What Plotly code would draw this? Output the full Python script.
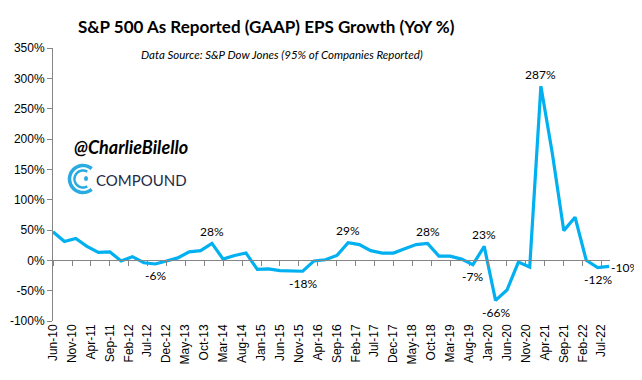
import math
import pandas as pd
import plotly.graph_objects as go

# ---- data ----
start_month = "2010-06-01"
n_points = 50
eps_growth = [47, 31, 36,
              23, 13, 14, -1,
              6, -4, -6, -1,
              4, 14, 16, 28,
              2, 8, 12, -15,
              -14, -17, -17, -18,
              -1, 1, 8, 29,
              26, 16, 12, 12,
              19, 26, 28, 7,
              7, 2, -7, 23,
              -66, -49, -3, -11,
              287, 176, 49, 71,
              0, -12, -10]
dates = pd.date_range(start_month, periods=n_points, freq="3MS")

# labelled points: index -> position
label_idx = [9, 14, 22, 26, 33, 37, 38, 39, 43, 48, 49]
label_pos = ["below", "above", "below", "above", "above", "below", "above",
             "below", "above", "below", "right"]

y_ticks = [-100, -50, 0, 50, 100, 150, 200, 250, 300, 350]
y_tick_text = [f"{v}%" for v in y_ticks]

OFF = 8  # page body margin
W, H = 642 - OFF, 380 - OFF
L, R, T, B = 53 - OFF, 32, 48 - OFF, 59
PW, PH = W - L - R, H - T - B

BLUE = "#00B0F0"
GRAY = "#868686"

fig = go.Figure()
fig.add_trace(go.Scatter(x=dates, y=eps_growth, mode="lines",
                         line=dict(color=BLUE, width=3.2), hoverinfo="skip",
                         showlegend=False))
# invisible trace for the zero-line axis with tick marks
fig.add_trace(go.Scatter(x=[dates[0]], y=[0], xaxis="x2", mode="markers",
                         marker=dict(opacity=0), showlegend=False, hoverinfo="skip"))

ymin, ymax = -100, 350
zero_pos = (0 - ymin) / (ymax - ymin)

fig.update_layout(
    width=W, height=H, margin=dict(l=L, r=R, t=T, b=B, autoexpand=False),
    paper_bgcolor="white", plot_bgcolor="white",
    xaxis=dict(type="date", range=["2010-06-01", "2022-09-08"],
               tick0="2010-06-01", dtick="M5", tickformat="%b-%y",
               tickangle=-90, showgrid=False, showline=False, zeroline=False,
               automargin=False, ticks="", ticklen=2,
               tickfont=dict(family="Liberation Sans", size=12, color="black")),
    xaxis2=dict(type="date", overlaying="x", matches="x", anchor="free",
                position=zero_pos, side="bottom", automargin=False,
                tick0="2010-06-01", dtick="M5", showticklabels=False,
                showgrid=False, showline=True, linecolor=GRAY, linewidth=1,
                ticks="outside", ticklen=5, tickcolor=GRAY, zeroline=False),
    yaxis=dict(range=[ymin, ymax], tickvals=y_ticks, ticktext=y_tick_text,
               showgrid=False, zeroline=False, showline=True, linecolor=GRAY,
               automargin=False, linewidth=1, ticks="outside", ticklen=5, tickcolor=GRAY,
               tickfont=dict(family="Liberation Sans", size=12, color="black")),
)

annotations = []
for i, pos in zip(label_idx, label_pos):
    v = eps_growth[i]
    txt = f"{v}%"
    a = dict(x=dates[i], y=v, xref="x", yref="y", text=txt, showarrow=False,
             font=dict(family="Lato", size=12, color="black"))
    if pos == "above":
        a.update(yshift=12)
    elif pos == "below":
        a.update(yshift=-12)
    else:
        a.update(xanchor="left", xshift=0, yshift=-1)
    annotations.append(a)


def px_to_paper(px, py):
    # screen pixel -> paper fraction
    return (px - OFF - L) / PW, (H - B - (py - OFF)) / PH


annotations += [
    dict(x=266, y=26, text="<b>S&P 500 As Reported (GAAP) EPS Growth (YoY %)</b>",
         showarrow=False, font=dict(family="Lato", size=17, color="black")),
    dict(x=282, y=54, text="<i>Data Source: S&P Dow Jones (95% of Companies Reported)</i>",
         showarrow=False, font=dict(family="Lato", size=11.5, color="black")),
    dict(x=131, y=147, text="<b><i>@CharlieBilello</i></b>",
         showarrow=False, font=dict(family="Lato", size=18, color="black")),
    dict(x=141, y=180, text="COMPOUND",
         showarrow=False, font=dict(family="Lato", size=15, color="#1F2A44")),
]
for a in annotations[len(label_idx):]:
    xp, yp = px_to_paper(a["x"], a["y"])
    a.update(x=xp, y=yp, xref="paper", yref="paper", xanchor="center", yanchor="middle")
fig.update_layout(annotations=annotations)


# Compound logo: concentric arcs (decoration)
def arc_path(cx, cy, r, a0, a1, n=40):
    pts = []
    for k in range(n + 1):
        a = math.radians(a0 + (a1 - a0) * k / n)
        px = cx + r * math.cos(a)
        py = cy - r * math.sin(a)
        xp, yp = px_to_paper(px, py)
        pts.append(f"{xp:.5f},{yp:.5f}")
    return "M" + " L".join(pts)


cx, cy = 83, 179
shapes = [
    dict(type="path", xref="paper", yref="paper", path=arc_path(cx, cy, 13.5, 50, 310),
         line=dict(color="#29ABE2", width=3.5)),
    dict(type="path", xref="paper", yref="paper", path=arc_path(cx, cy, 8.5, 60, 300),
         line=dict(color="#29ABE2", width=2.5)),
]
# small droplet
dx, dy = px_to_paper(cx + 1, cy + 2)
dx2, dy2 = px_to_paper(cx + 5, cy - 3)
shapes.append(dict(type="circle", xref="paper", yref="paper",
                   x0=min(dx, dx2), x1=max(dx, dx2), y0=min(dy, dy2), y1=max(dy, dy2),
                   fillcolor="#29ABE2", line=dict(width=0)))
fig.update_layout(shapes=shapes)

fig.write_html("out.html")
